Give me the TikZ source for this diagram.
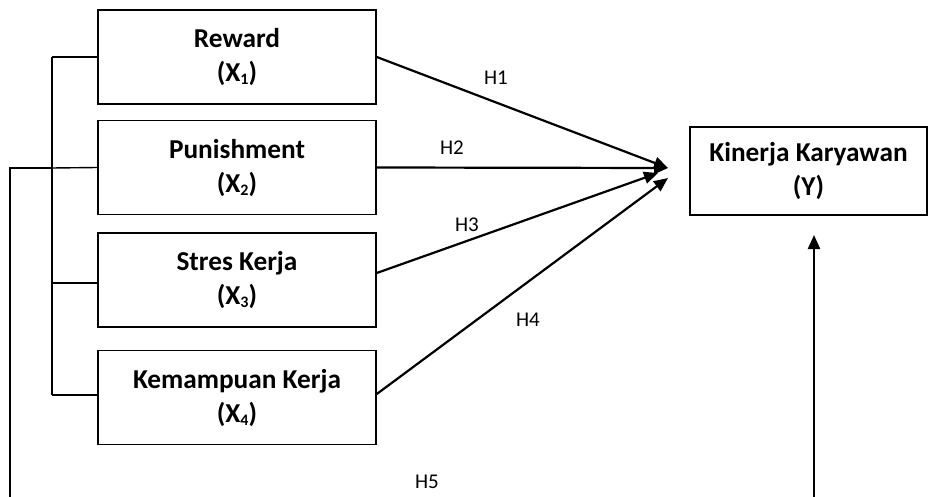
\documentclass[tikz,border=0pt]{standalone}
\usepackage{fontspec}
\setmainfont{Carlito}
\usetikzlibrary{arrows.meta}
\newcommand{\subn}[1]{\raisebox{-0.12em}{\fontsize{16}{16}\selectfont #1}}
\begin{document}
\begin{tikzpicture}[x=1pt,y=-1pt,
  box/.style={draw, line width=1.6pt, align=center, inner sep=0pt,
    font=\fontsize{27.3}{34}\selectfont\bfseries},
  var/.style={box, minimum width=278pt, minimum height=94pt},
  link/.style={line width=1.4pt},
  hyp/.style={line width=2.2pt, -{Triangle[length=14pt,width=12pt]}},
  lab/.style={font=\fontsize{21}{24}\selectfont, inner sep=0pt}]
\useasboundingbox (0,0) rectangle (928,497);
\node[var] (x1) at (237,57) {Reward\\(X\subn{1})};
\node[var] (x2) at (237,167.5) {Punishment\\(X\subn{2})};
\node[var] (x3) at (237,280) {Stres Kerja\\(X\subn{3})};
\node[var] (x4) at (237,397.5) {Kemampuan Kerja\\(X\subn{4})};
\node[box, minimum width=237pt, minimum height=88pt] (y) at (808.5,171) {Kinerja Karyawan\\(Y)};
\coordinate (t1) at (668,168);
\coordinate (t3) at (658,173);
\coordinate (t4) at (668,178);
\coordinate (b1) at (52,57);
\coordinate (b2) at (52,168);
\coordinate (b3) at (52,283);
\coordinate (b4) at (52,395);
\coordinate (o1) at (10,168);
\coordinate (o2) at (10,497);
\coordinate (u1) at (814,497);
\coordinate (u2) at (814,235);
% bracket
\draw[link] (b1) -- (b4);
\draw[link] (b1) -- (x1.west);
\draw[link] (b2) -- (x2.west);
\draw[link] (b3) -- ([yshift=-3pt]x3.west);
\draw[link] (b4) -- ([yshift=2.5pt]x4.west);
\draw[link] (b2) -- (o1) -- (o2);
% hypotheses
\draw[hyp] (x1.east) -- (t1);
\draw[hyp] (x2.east) -- (t1);
\draw[hyp] ([yshift=7pt]x3.east) -- (t3);
\draw[hyp] ([yshift=3.5pt]x4.east) -- (t4);
\draw[hyp] (u1) -- (u2);
\node[lab] (h1) at (496,78) {H1};
\node[lab] (h2) at (452,148) {H2};
\node[lab] (h3) at (467,225) {H3};
\node[lab] (h4) at (528,320) {H4};
\node[lab] (h5) at (427,482) {H5};
\end{tikzpicture}
\end{document}
